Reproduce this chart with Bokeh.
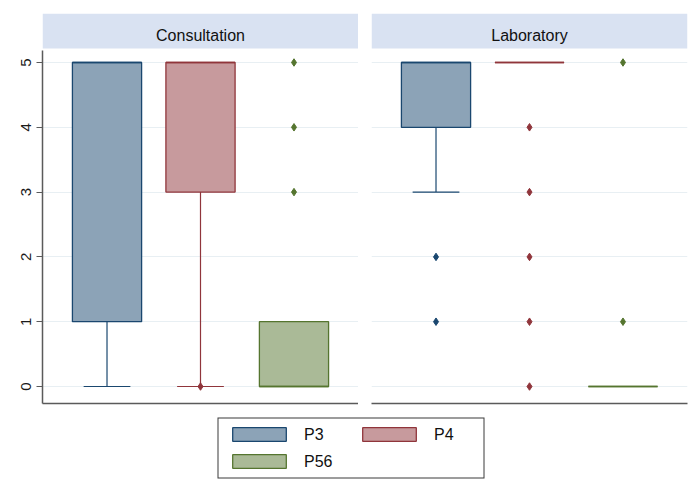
from bokeh.plotting import figure
from bokeh.models import Range1d, FixedTicker, LinearAxis, Grid, Legend, LegendItem
from bokeh.layouts import row, column
from bokeh.embed import file_html
from bokeh.resources import INLINE
from bokeh.core.properties import value

# ---------------- data ----------------
panels = ["Consultation", "Laboratory"]
groups = ["P3", "P4", "P56"]
y_ticks = [0, 1, 2, 3, 4, 5]

cons_q1 = [1, 3, 0]
cons_median = [5, 5, 0]
cons_q3 = [5, 5, 1]
cons_lower = [0, 0, 0]
cons_upper = [5, 5, 1]
cons_outliers = [[], [0], [3, 4, 5]]

lab_q1 = [4, 5, 0]
lab_median = [5, 5, 0]
lab_q3 = [5, 5, 0]
lab_lower = [3, 5, 0]
lab_upper = [5, 5, 0]
lab_outliers = [[2, 1], [4, 3, 2, 1, 0], [5, 1]]

line_colors = ["#1a476f", "#90353b", "#55752f"]
fill_colors = ["#8ca3b7", "#c79a9d", "#aaba97"]

# ---------------- layout constants ----------------
Y0, Y1 = -0.262, 5.756
HEAD_BOTTOM = 5.216
HEAD_TEXT_Y = 5.41
AXIS_TOP = 5.185
X0, X1 = 0.31, 3.69
BOX_W = 0.74
CAP_W = 0.5
FONT = "Liberation Sans"
AXIS_COLOR = "#5a5a5a"


def make_panel(title, q1, med, q3, lo, hi, outs, left_axis, width, mbl, mbr):
    p = figure(width=width, height=410, x_range=Range1d(X0, X1), y_range=Range1d(Y0, Y1),
               x_axis_type=None, y_axis_type=None, output_backend="svg",
               toolbar_location=None, min_border_top=13, min_border_bottom=7,
               min_border_left=mbl, min_border_right=mbr)
    p.outline_line_color = None
    p.background_fill_color = "white"
    p.border_fill_color = "white"

    p.add_layout(Grid(dimension=1, ticker=FixedTicker(ticks=y_ticks),
                      grid_line_color="#e8eff3", grid_line_width=1))

    if left_axis:
        ax = LinearAxis(ticker=FixedTicker(ticks=y_ticks), bounds=(Y0, AXIS_TOP),
                        major_label_orientation="vertical",
                        axis_line_color=AXIS_COLOR, axis_line_width=1.5,
                        major_tick_line_color=AXIS_COLOR, major_tick_line_width=1.2,
                        major_tick_in=0, major_tick_out=6,
                        minor_tick_line_color=None, major_label_standoff=5,
                        major_label_text_font=FONT, major_label_text_font_size="15px",
                        major_label_text_color="#1a1a1a")
        p.add_layout(ax, "left")

    bx = LinearAxis(ticker=FixedTicker(ticks=[]), axis_line_color=AXIS_COLOR,
                    axis_line_width=1.5, major_tick_line_color=None,
                    minor_tick_line_color=None, major_label_text_font_size="0px")
    p.add_layout(bx, "below")

    # header strip
    p.quad(left=[X0], right=[X1], bottom=[HEAD_BOTTOM], top=[Y1],
           fill_color="#d9e2f2", line_color=None)
    p.text(x=[(X0 + X1) / 2], y=[HEAD_TEXT_Y], text=[title],
           text_align="center", text_baseline="middle", text_font=value(FONT),
           text_font_size="16px", text_color="#111111")

    xs = [i + 1 for i in range(len(groups))]
    for i, x in enumerate(xs):
        lc, fc = line_colors[i], fill_colors[i]
        # whiskers
        p.segment(x0=[x, x], x1=[x, x], y0=[lo[i], q3[i]], y1=[q1[i], hi[i]],
                  line_color=lc, line_width=1.2)
        # caps
        p.segment(x0=[x - CAP_W / 2] * 2, x1=[x + CAP_W / 2] * 2, y0=[lo[i], hi[i]],
                  y1=[lo[i], hi[i]], line_color=lc, line_width=1.2)
        # box
        p.quad(left=[x - BOX_W / 2], right=[x + BOX_W / 2], bottom=[q1[i]], top=[q3[i]],
               fill_color=fc, line_color=lc, line_width=1.3)
        # median
        p.segment(x0=[x - BOX_W / 2], x1=[x + BOX_W / 2], y0=[med[i]], y1=[med[i]],
                  line_color=lc, line_width=1.6)
        # outliers
        if outs[i]:
            p.scatter(x=[x] * len(outs[i]), y=outs[i], marker="diamond", size=7.5,
                      fill_color=lc, line_color=lc, line_width=1)
    return p


pa = make_panel(panels[0], cons_q1, cons_median, cons_q3, cons_lower, cons_upper,
                cons_outliers, True, 358, 42, 0)
pb = make_panel(panels[1], lab_q1, lab_median, lab_q3, lab_lower, lab_upper,
                lab_outliers, False, 341, 13, 12)

# ---------------- legend ----------------
lg = figure(width=699, height=80, x_range=Range1d(0, 1), y_range=Range1d(0, 1),
            x_axis_type=None, y_axis_type=None, output_backend="svg",
            toolbar_location=None, min_border_left=2, min_border_right=0,
            min_border_top=0, min_border_bottom=5)
lg.outline_line_color = None
items = []
for g, lc, fc in zip(groups, line_colors, fill_colors):
    # placeholder swatch renderers kept outside the visible range
    r = lg.quad(left=[5], right=[6], top=[6], bottom=[5], fill_color=fc, line_color=lc,
                line_width=1.3)
    items.append(LegendItem(label=g, renderers=[r]))
legend = Legend(items=items, orientation="horizontal", nrows=2, location="center",
                glyph_width=67, glyph_height=17,
                label_standoff=12, label_width=42, label_height=16, padding=7, spacing=9,
                margin=0, border_line_color="#3a3a3a", border_line_width=1.5,
                border_line_alpha=1.0,
                background_fill_color="white", background_fill_alpha=1.0,
                label_text_font=FONT, label_text_font_size="16px",
                label_text_color="#111111")
lg.add_layout(legend, "center")

layout = column(row(pa, pb), lg)

open("out.html", "w").write(file_html(layout, INLINE))
